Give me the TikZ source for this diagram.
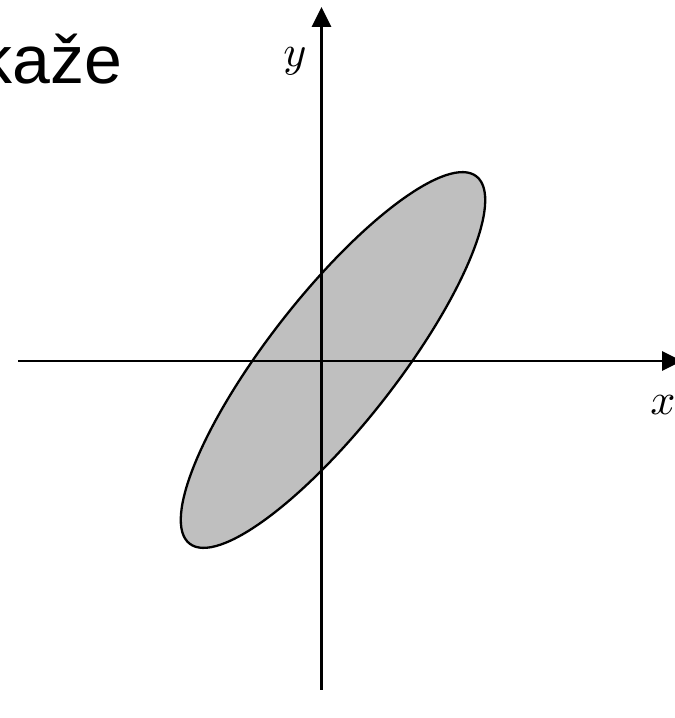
\documentclass[tikz,border=0pt]{standalone}
\usepackage{fontspec}
\setmainfont{Liberation Sans}
\usetikzlibrary{arrows.meta}
\tikzset{
  axis/.style={line width=2.8pt, -{Triangle[length=20pt,width=19pt]}},
  blob/.style={draw=black, line width=2.3pt, fill=black!25},
  axlabel/.style={inner sep=0pt, outer sep=0pt, anchor=base, scale=4.4},
}
\begin{document}
\begin{tikzpicture}[x=1pt,y=1pt]
\useasboundingbox (0,0) rectangle (675,718);
\clip (0,0) rectangle (675,718);
\coordinate (xs) at (18,357);
\coordinate (xe) at (682,357);
\coordinate (ys) at (321.5,28);
\coordinate (ye) at (321.5,711);
\draw[blob] (333,358) ellipse[x radius=233, y radius=64.5, rotate=52];
\draw[axis] (xs) -- (xe);
\draw[axis] (ys) -- (ye);
\node[axlabel] (ylab) at (295,651) {$y$};
\node[axlabel] (xlab) at (663,303) {$x$};
\node[inner sep=0pt, outer sep=0pt, anchor=base west, font=\fontsize{68}{80}\selectfont] (word) at (-21,634) {kaže};
\end{tikzpicture}
\end{document}
